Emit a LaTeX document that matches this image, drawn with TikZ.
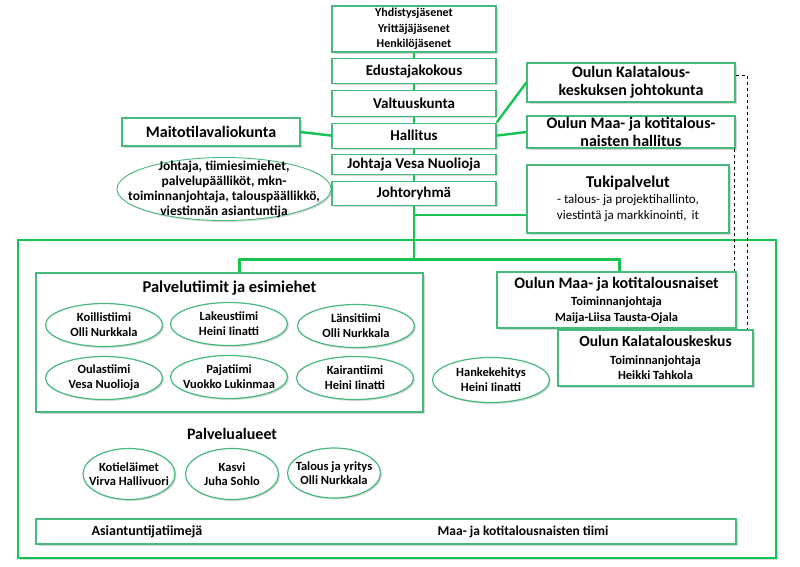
\documentclass[tikz,border=0pt]{standalone}
\usepackage{fontspec}
\setmainfont{Carlito}
\usetikzlibrary{positioning,shapes.geometric,shadows}
\definecolor{linegreen}{RGB}{20,195,80}
\definecolor{boxgreen}{RGB}{70,185,125}

\begin{document}
\begin{tikzpicture}[x=1pt, y=-1pt, node distance=5.5pt,
    box/.style = {draw=boxgreen, line width=1.2pt, fill=white, align=center, inner sep=1pt,
                  drop shadow={shadow xshift=1.5pt, shadow yshift=-1.5pt, opacity=.3}},
    oval/.style = {box, ellipse},
    midtext/.style = {font=\bfseries\fontsize{15}{17}\selectfont},
    headtext/.style = {font=\bfseries\fontsize{16}{18}\selectfont},
    subtext/.style = {font=\bfseries\fontsize{12}{15.5}\selectfont},
    ovaltext/.style = {align=center, font=\bfseries\fontsize{12.5}{15}\selectfont},
    circtext/.style = {align=center, font=\bfseries\fontsize{12.5}{14.5}\selectfont},
    link/.style = {draw=linegreen, line width=2.4pt},
    dashline/.style = {draw=black, dashed, line width=.6pt}]

    \path[fill=white] (0,0) rectangle (800,566);
    \useasboundingbox (0,0) rectangle (800,566);

    % frame round the units
    \node[box, draw=linegreen, line width=1.8pt, minimum width=758pt, minimum height=318pt] (frame) at (397,399) {};

    % middle column
    \node[box, subtext, minimum width=164pt, minimum height=46pt] (members) at (414,29) {Yhdistysjäsenet\\Yrittäjäjäsenet\\Henkilöjäsenet};
    \node[box, midtext, minimum width=164pt, minimum height=25pt] (edus) [below=of members] {Edustajakokous};
    \node[box, midtext, minimum width=164pt, minimum height=26pt] (valt) [below=of edus] {Valtuuskunta};
    \node[box, midtext, minimum width=164pt, minimum height=25pt] (hall) [below=of valt] {Hallitus};
    \node[box, midtext, minimum width=164pt, minimum height=20pt] (johtaja) [below=of hall] {Johtaja Vesa Nuolioja};
    \node[box, midtext, minimum width=164pt, minimum height=24pt] (ryhma) [below=of johtaja] {Johtoryhmä};

    % left
    \node[box, headtext, minimum width=178pt, minimum height=28pt] (maito) at (211,132) {Maitotilavaliokunta};
    \node[oval, line width=.9pt, minimum width=214pt, minimum height=63pt,
          label={[ovaltext, font=\bfseries\fontsize{13.5}{15}\selectfont]center:Johtaja, tiimiesimiehet,\\palvelupäälliköt, mkn-\\toiminnanjohtaja, talouspäällikkö,\\viestinnän asiantuntija}] (desc) at (224,189) {};

    % right
    \node[box, headtext, minimum width=208pt, minimum height=39pt] (kala) at (631,82.5) {Oulun Kalatalous-\\keskuksen johtokunta};
    \node[box, headtext, minimum width=208pt, minimum height=32pt] (maah) at (631,132) {Oulun Maa- ja kotitalous-\\naisten hallitus};
    \node[box, font=\fontsize{13}{16}\selectfont, minimum width=202pt, minimum height=68pt] (tuki) at (628,199)
          {{\bfseries\fontsize{16.5}{19}\selectfont Tukipalvelut}\\- talous- ja projektihallinto,\\viestintä ja markkinointi,\, it};

    % service teams
    \node[box, minimum width=387pt, minimum height=139pt] (tiimit) at (229.5,342.5) {};
    \node[font=\bfseries\fontsize{16.5}{18}\selectfont] (tiimithead) at (229.5,288) {Palvelutiimit ja esimiehet};
    \node[oval, minimum width=117pt, minimum height=43pt, label={[ovaltext]center:Koillistiimi\\Olli Nurkkala}] (koillis) at (104,325) {};
    \node[oval, minimum width=117pt, minimum height=43pt, label={[ovaltext]center:Lakeustiimi\\Heini Iinatti}] (lakeus) at (229,324) {};
    \node[oval, minimum width=117pt, minimum height=43pt, label={[ovaltext]center:Länsitiimi\\Olli Nurkkala}] (lansi) at (356,326) {};
    \node[oval, minimum width=117pt, minimum height=43pt, label={[ovaltext]center:Oulastiimi\\Vesa Nuolioja}] (oulas) at (104,378) {};
    \node[oval, minimum width=117pt, minimum height=43pt, label={[ovaltext]center:Pajatiimi\\Vuokko Lukinmaa}] (paja) at (229,377) {};
    \node[oval, minimum width=117pt, minimum height=43pt, label={[ovaltext]center:Kairantiimi\\Heini Iinatti}] (kairan) at (355,378) {};
    \node[oval, minimum width=117pt, minimum height=45pt, label={[ovaltext]center:Hankekehitys\\Heini Iinatti}] (hanke) at (491,380) {};

    \node[box, font=\bfseries\fontsize{12.5}{15.5}\selectfont, minimum width=239pt, minimum height=56pt] (naiset) at (616.5,300)
          {{\fontsize{16}{18}\selectfont Oulun Maa- ja kotitalousnaiset}\\[2pt]Toiminnanjohtaja\\Maija-Liisa Tausta-Ojala};
    \node[box, font=\bfseries\fontsize{12.5}{15.5}\selectfont, minimum width=195pt, minimum height=56pt] (kalak) at (655.5,358)
          {{\fontsize{15.5}{18}\selectfont Oulun Kalatalouskeskus}\\[2pt]Toiminnanjohtaja\\Heikki Tahkola};

    % service areas
    \node[headtext] (alueet) at (232,434) {Palvelualueet};
    \node[oval, minimum width=92pt, minimum height=51pt, label={[circtext]center:Kotieläimet\\Virva Hallivuori}] (kotiel) at (129,474) {};
    \node[oval, minimum width=93pt, minimum height=51pt, label={[circtext]center:Kasvi\\Juha Sohlo}] (kasvi) at (232,474) {};
    \node[oval, minimum width=93pt, minimum height=50pt, label={[circtext]center:Talous ja yritys\\Olli Nurkkala}] (talous) at (334,473) {};

    \node[box, minimum width=700pt, minimum height=25pt] (asiant) at (386,531.5) {};
    \node[font=\bfseries\fontsize{14}{16}\selectfont] (asianttxt) at (147,532) {Asiantuntijatiimejä};
    \node[font=\bfseries\fontsize{13.5}{16}\selectfont] (naisettxt) at (523,532) {Maa- ja kotitalousnaisten tiimi};

    % connectors
    \draw[link] (members) -- (edus);
    \draw[link] (edus) -- (valt);
    \draw[link] (valt) -- (hall);
    \draw[link] (hall) -- (johtaja);
    \draw[link] (johtaja) -- (ryhma);

    \draw[link] (hall.west) -- (maito.east);
    \draw[link] (hall.east) -- (maah.west);
    \draw[link] (hall.north east) -- (kala.west);

    \coordinate (tukiin) at ([yshift=-16pt]tuki.west);
    \draw[link] (ryhma.south) -- ++(0,53.5) coordinate (split);
    \draw[link] (ryhma.south |- tukiin) -- (tukiin);
    \draw[link] ([xshift=10pt]tiimit.north) |- (split) -| ([xshift=3pt]naiset.north);

    \draw[dashline] ([yshift=7pt]kala.east) -| ([xshift=-6pt]kalak.north east);
    \draw[dashline] ([xshift=-1pt]maah.south east) -- ([xshift=-1pt]maah.south east |- naiset.north);
\end{tikzpicture}
\end{document}
